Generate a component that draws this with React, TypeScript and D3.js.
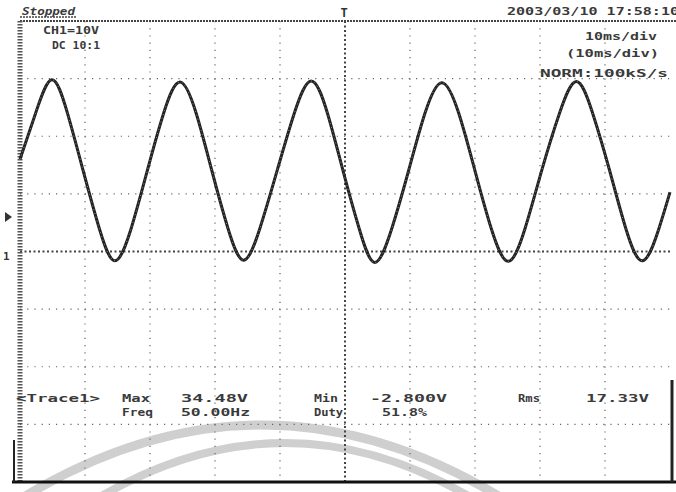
import React from "react";
import * as d3 from "d3";

// ---- data ----
const traceTimesMs = [0, 2.4, 4.9, 7.3, 9.7, 12.2, 14.6, 17.1, 19.6, 22.1, 24.6, 27.1, 29.5, 32.0, 34.4, 36.9, 39.6, 42.2, 44.8, 47.3, 49.7, 52.2, 54.6, 57.2, 59.8, 62.3, 64.9, 67.5, 70.0, 72.5, 75.1, 77.7, 80.3, 83.0, 85.6, 88.1, 90.7, 93.2, 95.8, 98.3, 100];
const traceVolts = [16.0, 24.0, 29.8, 24.0, 14.1, 4.0, -1.6, 4.0, 14.1, 24.0, 29.4, 24.0, 14.1, 4.0, -1.5, 4.0, 14.2, 24.0, 29.6, 24.0, 14.0, 3.9, -1.9, 4.0, 14.1, 24.0, 29.3, 24.0, 14.0, 4.0, -1.7, 4.0, 14.2, 24.0, 29.5, 24.0, 14.1, 4.0, -1.6, 4.0, 10.3];

const timeTicksMs = [0, 10, 20, 30, 40, 50, 60, 70, 80, 90, 100];
const voltTicks = [-40, -30, -20, -10, 0, 10, 20, 30, 40];

const statusText = "Stopped";
const dateText = "2003/03/10 17:58:10";
const channelText = "CH1=10V";
const couplingText = "DC 10:1";
const timebaseText = "10ms/div";
const timebase2Text = "(10ms/div)";
const sampleText = "NORM:100kS/s";
const traceLabel = "<Trace1>";
const measureNames = ["Max", "Freq", "Min", "Duty", "Rms"];
const measureValues = ["34.48V", "50.00Hz", "-2.800V", "51.8%", "17.33V"];

const W = 676;
const H = 492;
const L = 20, R = 670, T = 21, B = 482;

export default function App() {
  const x = d3.scaleLinear().domain([0, 100]).range([L, R]);
  const y = d3.scaleLinear().domain([-40, 40]).range([B, T]);
  const line = d3
    .line<number>()
    .x((_, i) => x(traceTimesMs[i]))
    .y((v) => y(v))
    .curve(d3.curveNatural);
  const tracePath = line(traceVolts) || "";

  const font = "'DejaVu Sans Mono', monospace";
  const txt = (s: string, px: number, py: number, len: number, extra: any = {}) => (
    <text
      x={px}
      y={py}
      textLength={len}
      lengthAdjust="spacingAndGlyphs"
      fontFamily={font}
      fontWeight="bold"
      fontSize={10}
      fill="#3a3a3a"
      {...extra}
    >
      {s}
    </text>
  );

  const measPos = [
    { nx: 122, vx: 181, yy: 402, nl: 28, vl: 67 },
    { nx: 122, vx: 181, yy: 416, nl: 31, vl: 69 },
    { nx: 314, vx: 370, yy: 402, nl: 24, vl: 77 },
    { nx: 314, vx: 382, yy: 416, nl: 29, vl: 45 },
    { nx: 518, vx: 586, yy: 402, nl: 22, vl: 63 },
  ];

  return (
    <svg
      width={W}
      height={H}
      viewBox={`0 0 ${W} ${H}`}
      style={{ position: "absolute", left: 0, top: 0, background: "#fff" }}
    >
      <rect x={0} y={0} width={W} height={H} fill="#fff" />
      {/* scan arcs */}
      <path d="M22,498 Q262,352 502,498" fill="none" stroke="#cfcfcf" strokeWidth={9} />
      <path d="M98,498 Q285,388 472,498" fill="none" stroke="#cfcfcf" strokeWidth={8} />

      {/* grid */}
      {timeTicksMs.slice(1, -1).map((t) => (
        <line
          key={"v" + t}
          x1={x(t)}
          x2={x(t)}
          y1={T}
          y2={B}
          stroke={t === 50 ? "#444" : "#666"}
          strokeWidth={t === 50 ? 2 : 1.2}
          strokeDasharray={t === 50 ? "2,2.5" : "1.2,6"}
        />
      ))}
      {voltTicks.slice(1, -1).map((v) => (
        <line
          key={"h" + v}
          x1={L}
          x2={R}
          y1={y(v)}
          y2={y(v)}
          stroke={v === 0 ? "#444" : "#666"}
          strokeWidth={v === 0 ? 2 : 1.2}
          strokeDasharray={v === 0 ? "2,2.5" : "1.2,6"}
        />
      ))}

      {/* borders */}
      <line x1={L} x2={W} y1={T} y2={T} stroke="#444" strokeWidth={2} strokeDasharray="2,1" />
      <line x1={L} x2={L} y1={T} y2={B} stroke="#555" strokeWidth={5} strokeDasharray="1.5,1.5" />
      <line x1={12} x2={W} y1={B} y2={B} stroke="#111" strokeWidth={3} />
      <line x1={14} x2={14} y1={440} y2={B} stroke="#222" strokeWidth={2} />
      <line x1={672} x2={672} y1={380} y2={B} stroke="#222" strokeWidth={3} />

      {/* markers */}
      <text x={344} y={17} textAnchor="middle" fontFamily={font} fontWeight="bold" fontSize={12} fill="#333">T</text>
      <path d="M5,212 L12,217 L5,222 Z" fill="#333" />
      <text x={3} y={260} fontFamily={font} fontWeight="bold" fontSize={11} fill="#333">1</text>

      {/* trace */}
      <path d={tracePath} fill="none" stroke="#222" strokeWidth={3} strokeLinejoin="round" />
      <path d={tracePath} fill="none" stroke="#fff" strokeWidth={0.8} strokeDasharray="1,3" opacity={0.6} />

      {/* header text */}
      {txt(statusText, 22, 15, 53, { fontStyle: "italic" })}
      <line x1={20} x2={76} y1={17} y2={17} stroke="#444" strokeWidth={1.5} strokeDasharray="2,1" />
      {txt(dateText, 507, 15, 172)}
      {txt(channelText, 43, 34, 56)}
      {txt(couplingText, 52, 49, 48)}
      {txt(timebaseText, 585, 40, 72)}
      {txt(timebase2Text, 566, 57, 93)}
      {txt(sampleText, 540, 77, 128)}

      {/* measurements */}
      {txt(traceLabel, 16, 402, 84)}
      {measureNames.map((n, i) => (
        <g key={n}>
          {txt(n, measPos[i].nx, measPos[i].yy, measPos[i].nl)}
          {txt(measureValues[i], measPos[i].vx, measPos[i].yy, measPos[i].vl)}
        </g>
      ))}
    </svg>
  );
}
